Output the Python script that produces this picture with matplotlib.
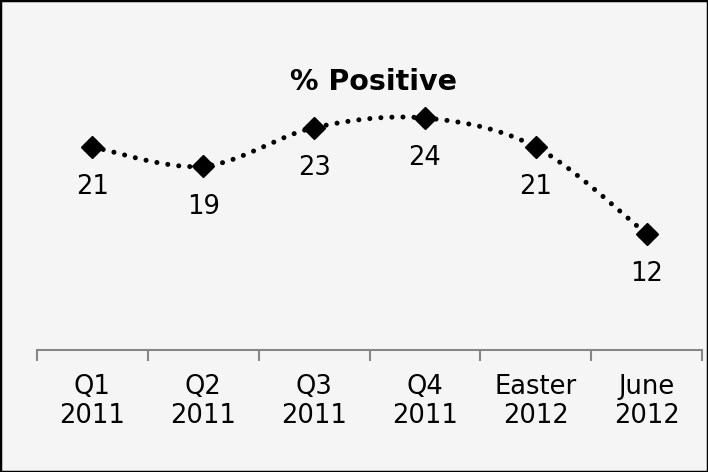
import numpy as np
import matplotlib
matplotlib.use("Agg")
import matplotlib.pyplot as plt
from matplotlib.patches import Rectangle

categories = ["Q1\n2011", "Q2\n2011", "Q3\n2011", "Q4\n2011", "Easter\n2012", "June\n2012"]
values = [21, 19, 23, 24, 21, 12]
title = "% Positive"

bg = "#f5f5f5"
plt.rcParams["font.family"] = ["DejaVu Sans"]

fig = plt.figure(figsize=(7.08, 4.72), dpi=100, facecolor=bg)
ax = fig.add_axes([37 / 708, 1 - 350 / 472, 665 / 708, 290 / 472])
ax.set_facecolor(bg)

x = np.arange(len(values), dtype=float)
y = np.array(values, dtype=float)

# Catmull-Rom style smoothing between the points
def smooth(xs, ys, n=40, t=0.5):
    px = np.concatenate([[xs[0]], xs, [xs[-1]]])
    py = np.concatenate([[ys[0]], ys, [ys[-1]]])
    ox, oy = [], []
    for i in range(1, len(px) - 2):
        p0 = np.array([px[i], py[i]])
        p1 = np.array([px[i + 1], py[i + 1]])
        m0 = t * (np.array([px[i + 1], py[i + 1]]) - np.array([px[i - 1], py[i - 1]]))
        m1 = t * (np.array([px[i + 2], py[i + 2]]) - np.array([px[i], py[i]]))
        s = np.linspace(0, 1, n)
        h00 = 2 * s**3 - 3 * s**2 + 1
        h10 = s**3 - 2 * s**2 + s
        h01 = -2 * s**3 + 3 * s**2
        h11 = s**3 - s**2
        pts = np.outer(h00, p0) + np.outer(h10, m0) + np.outer(h01, p1) + np.outer(h11, m1)
        ox.extend(pts[:, 0]); oy.extend(pts[:, 1])
    return np.array(ox), np.array(oy)

sx, sy = smooth(x, y)
ax.plot(sx, sy, color="black", lw=3.6, linestyle=(0, (0.01, 2.2)),
        dash_capstyle="round", solid_capstyle="round", zorder=2)
ax.plot(x, y, linestyle="none", marker="D", markersize=11, color="black", zorder=3)
ax.plot(x, y, linestyle="none", marker="P", markersize=12, color="black", zorder=3)

for xi, yi in zip(x, y):
    ax.annotate(f"{int(yi)}", (xi, yi), xytext=(0, -29), textcoords="offset points",
                ha="center", va="center", fontsize=18.5, color="black")

ax.set_xlim(-0.5, len(values) - 0.5)
ax.set_ylim(0, 30)
ax.set_yticks([])
for side in ["top", "right", "left"]:
    ax.spines[side].set_visible(False)
ax.spines["bottom"].set_color("#868686")
ax.spines["bottom"].set_linewidth(1.5)

ax.set_xticks(np.arange(-0.5, len(values), 1.0))
ax.set_xticklabels([])
ax.set_xticks(x, minor=True)
ax.set_xticklabels(categories, minor=True, fontsize=18.5, linespacing=1.15)
ax.tick_params(axis="x", which="major", length=8, width=1.5, color="#868686", direction="out")
ax.tick_params(axis="x", which="minor", length=0, pad=17)

fig.text(374 / 708, 1 - 82 / 472, title, ha="center", va="center",
         fontsize=20.5, fontweight="bold", color="black")

fig.patches.append(Rectangle((0, 0), 1, 1, transform=fig.transFigure, fill=False,
                             edgecolor="black", linewidth=2.5, zorder=10))

fig.savefig("out.png", dpi=100, facecolor=bg)
